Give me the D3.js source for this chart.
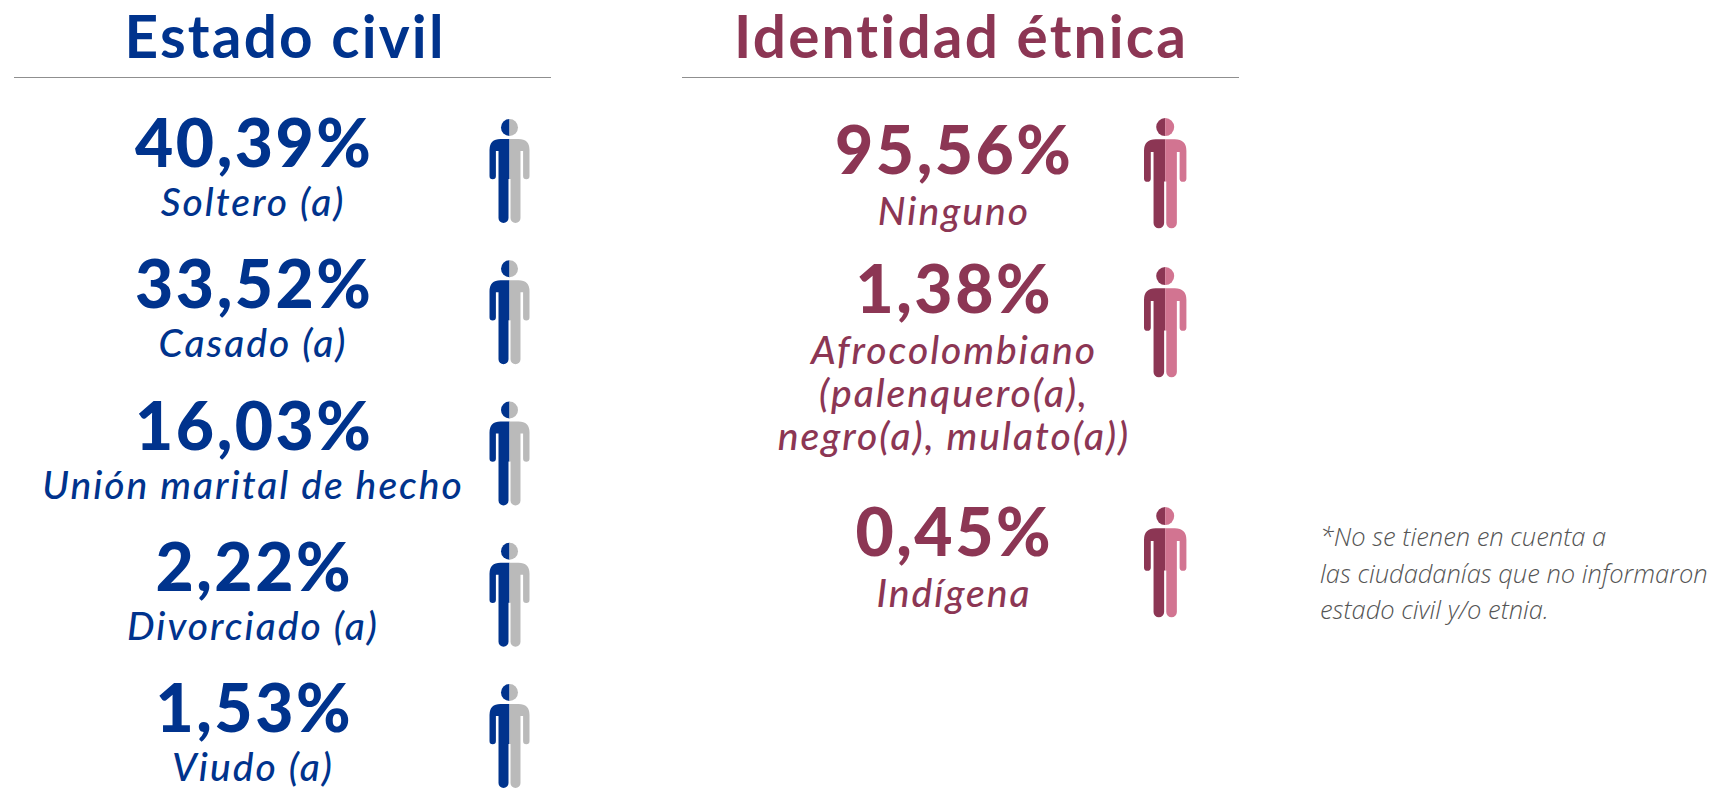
<!DOCTYPE html>
<html>
<head>
<meta charset="utf-8">
<title>Estado civil e identidad étnica</title>
<script src="https://cdn.jsdelivr.net/npm/d3@7"></script>
<style>
  html, body { margin: 0; padding: 0; background: #ffffff; }
  svg { display: block; }
  text { font-family: Lato, "Noto Sans", sans-serif; }
</style>
</head>
<body>
<div id="chart"></div>
<script>
const civilLabels = ['Soltero (a)', 'Casado (a)', 'Unión marital de hecho', 'Divorciado (a)', 'Viudo (a)']
const civilValues = [40.39, 33.52, 16.03, 2.22, 1.53]

const ethnicLabels = [
  ['Ninguno'],
  ['Afrocolombiano', '(palenquero(a),', 'negro(a), mulato(a))'],
  ['Indígena']
]
const ethnicValues = [95.56, 1.38, 0.45]

const noteLines = ['*No se tienen en cuenta a', 'las ciudadanías que no informaron', 'estado civil y/o etnia.']

const BLUE = '#00338d'
const GREY = '#bababa'
const MAROON = '#8c3654'
const PINK = '#d27491'

const width = 1728
const height = 788

// comma as decimal mark, like the original
const fmt = d3.formatLocale({ decimal: ',', thousands: '.', grouping: [3], currency: ['', ''] }).format('.2f')

const svg = d3.select('#chart').append('svg')
  .attr('width', width)
  .attr('height', height)

// person pictogram, drawn in a 40 x 105 box
const personBody = 'M0,31 Q0,20 11,20 L29,20 Q40,20 40,31 L40,57 A3.2,3.2 0 0 1 33.6,57 L33.6,32 L31,32 L31,99 A5,5 0 0 1 21,99 L21,60 L19,60 L19,99 A5,5 0 0 1 9,99 L9,32 L6.4,32 L6.4,57 A3.2,3.2 0 0 1 0,57 Z'

const defs = svg.append('defs')
defs.append('clipPath').attr('id', 'half-left').append('rect')
  .attr('x', -2).attr('y', -2).attr('width', 22).attr('height', 110)
defs.append('clipPath').attr('id', 'half-right').append('rect')
  .attr('x', 20).attr('y', -2).attr('width', 22).attr('height', 110)

function drawPerson(x, y, scale, leftColor, rightColor) {
  const g = svg.append('g')
    .attr('transform', 'translate(' + x + ',' + y + ') scale(' + scale + ')')
  const sides = [['half-left', leftColor], ['half-right', rightColor]]
  sides.forEach(function(side) {
    const part = g.append('g')
      .attr('clip-path', 'url(#' + side[0] + ')')
      .style('fill', side[1])
    part.append('circle').attr('cx', 20).attr('cy', 8.5).attr('r', 8.5)
    part.append('path').attr('d', personBody)
  })
}

// letter spacing stands in for the wider face of the original
function addText(str, x, y, size, weight, color, italic, spacing) {
  return svg.append('text')
    .attr('x', x + spacing / 2)
    .attr('y', y)
    .attr('text-anchor', 'middle')
    .style('font-size', size + 'px')
    .style('font-weight', weight)
    .style('font-style', italic ? 'italic' : 'normal')
    .style('letter-spacing', spacing + 'px')
    .style('fill', color)
    .text(str)
}

function addHeader(str, x, color, x0, x1) {
  addText(str, x, 58, 58.5, 700, color, false, 2.2)
  svg.append('line')
    .attr('x1', x0).attr('x2', x1)
    .attr('y1', 77.5).attr('y2', 77.5)
    .style('stroke', '#8f8f8f')
    .style('stroke-width', 1)
}

addHeader('Estado civil', 284, BLUE, 14, 551)
addHeader('Identidad étnica', 960, MAROON, 682, 1239)

// Estado civil rows, evenly spaced
const civilY = d3.scaleLinear().domain([0, 4]).range([0, 565])
civilValues.forEach(function(v, i) {
  const y = civilY(i)
  addText(fmt(v) + '%', 253, 167 + y, 66, 900, BLUE, false, 2.5)
  addText(civilLabels[i], 252, 216 + y, 39, 500, BLUE, true, 2)
  drawPerson(489.5, 119 + y, 1, BLUE, GREY)
})

// Identidad etnica rows, the middle one has three label lines
const ethnicValueY = [174, 313, 556]
const ethnicIconY = [118, 267, 507]
ethnicValues.forEach(function(v, i) {
  addText(fmt(v) + '%', 953, ethnicValueY[i], 66, 900, MAROON, false, 2.5)
  ethnicLabels[i].forEach(function(line, j) {
    addText(line, 953, ethnicValueY[i] + 51 + j * 43, 39, 500, MAROON, true, 2)
  })
  drawPerson(1144, ethnicIconY[i], 1.06, MAROON, PINK)
})

noteLines.forEach(function(line, i) {
  svg.append('text')
    .attr('x', 1320)
    .attr('y', 546 + i * 36.5)
    .style('font-family', '"Open Sans", sans-serif')
    .style('font-size', '25.5px')
    .style('font-weight', 300)
    .style('font-style', 'italic')
    .style('fill', '#555555')
    .text(line)
})
</script>
</body>
</html>
